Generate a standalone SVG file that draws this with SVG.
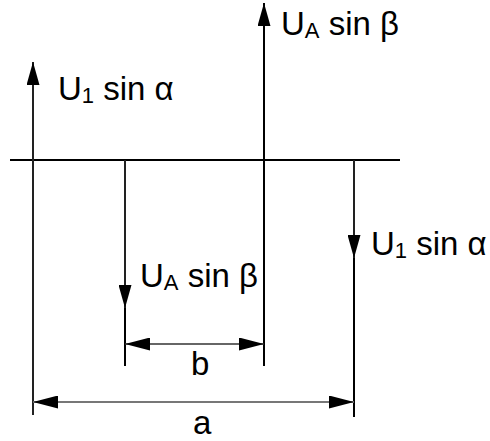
<svg xmlns="http://www.w3.org/2000/svg" width="490" height="441" viewBox="0 0 490 441">
  <defs>
    <marker id="vec" markerUnits="userSpaceOnUse" markerWidth="23" markerHeight="13" viewBox="0 0 23 13" refX="23" refY="6.5" orient="auto">
      <path d="M0,0 L23,6.5 L0,13 Z" fill="#000"/>
    </marker>
    <marker id="dim" markerUnits="userSpaceOnUse" markerWidth="25" markerHeight="13" viewBox="0 0 25 13" refX="25" refY="6.5" orient="auto-start-reverse">
      <path d="M0,0 L25,6.5 L0,13 Z" fill="#000"/>
    </marker>
    <style>
      .ln { stroke: #000; stroke-width: 2; fill: none; }
      .shaft { stroke: #222; stroke-width: 2; fill: none; }
      .dimb { stroke: #333; stroke-width: 1.6; fill: none; }
      .dima { stroke: #777; stroke-width: 2.2; fill: none; }
      .lbl { font-family: "Liberation Sans", Arial, sans-serif; font-size: 33px; fill: #000; }
      .sub { font-size: 22px; }
    </style>
  </defs>
  <rect width="490" height="441" fill="#fff"/>

  <g id="baseline">
    <path class="ln" d="M10,160 H400"/>
  </g>

  <g id="connectors">
    <path class="shaft" d="M33,415 V62" marker-end="url(#vec)"/>
    <path class="shaft" d="M125,160 V308" marker-end="url(#vec)"/>
    <path class="ln" d="M125,308 V366"/>
    <path class="ln" d="M264,366 V3" marker-end="url(#vec)"/>
    <path class="shaft" d="M354,160 V258" marker-end="url(#vec)"/>
    <path class="ln" d="M354,258 V417"/>
    <path class="dimb" d="M125,344 H264" marker-start="url(#dim)" marker-end="url(#dim)"/>
    <path class="dima" d="M33,402 H354" marker-start="url(#dim)" marker-end="url(#dim)"/>
  </g>

  <g id="label-u1-left">
    <text class="lbl" x="58" y="100">U<tspan class="sub" dy="3">1</tspan><tspan dy="-3"> sin α</tspan></text>
  </g>
  <g id="label-ua-top">
    <text class="lbl" x="281" y="35">U<tspan class="sub" dy="3">A</tspan><tspan dy="-3"> sin β</tspan></text>
  </g>
  <g id="label-ua-mid">
    <text class="lbl" x="140" y="287">U<tspan class="sub" dy="3">A</tspan><tspan dy="-3"> sin β</tspan></text>
  </g>
  <g id="label-u1-right">
    <text class="lbl" x="371" y="255">U<tspan class="sub" dy="3">1</tspan><tspan dy="-3"> sin α</tspan></text>
  </g>
  <g id="label-b">
    <text class="lbl" x="191" y="375">b</text>
  </g>
  <g id="label-a">
    <text class="lbl" x="193" y="434">a</text>
  </g>
</svg>
